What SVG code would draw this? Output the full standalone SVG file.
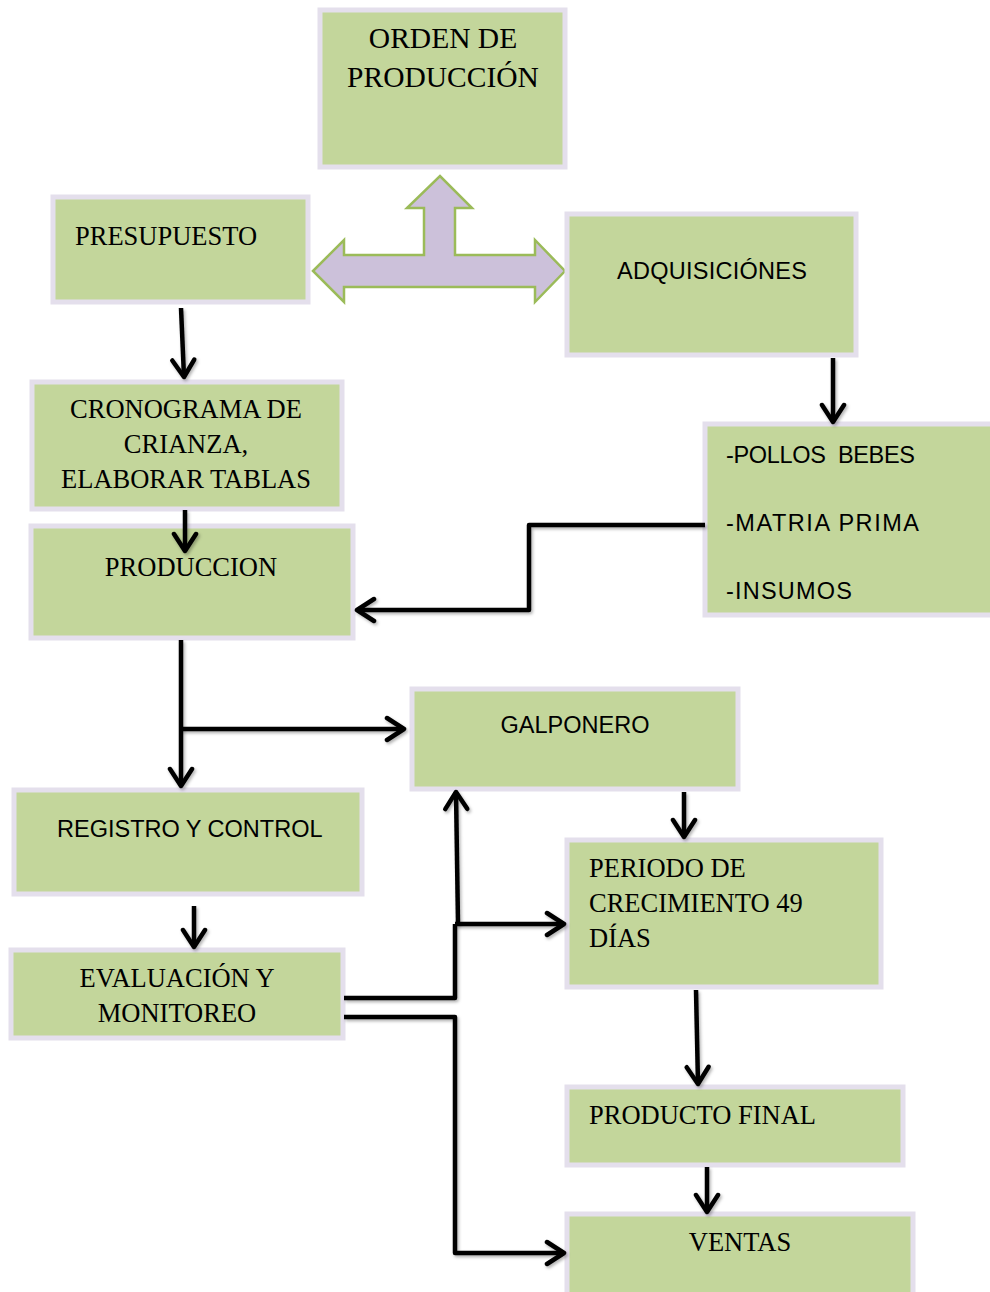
<svg xmlns="http://www.w3.org/2000/svg" width="990" height="1292" viewBox="0 0 990 1292">
<defs>
<style>
.box{fill:#C3D69B;stroke:#E4DFEC;stroke-width:5}
.serif{font-family:"Liberation Serif","Times New Roman",serif;font-size:26.5px;fill:#000}
.big{font-size:29.5px}
.sans{font-family:"Liberation Sans",Arial,sans-serif;font-size:23.5px;fill:#000}
.c{text-anchor:middle}
.line{fill:none;stroke:#000;stroke-width:4.5;stroke-linejoin:round;filter:url(#sh)}
.arr{marker-end:url(#ah)}
</style>
<filter id="sh" filterUnits="userSpaceOnUse" x="0" y="0" width="990" height="1292">
<feDropShadow dx="1.5" dy="2" stdDeviation="1.5" flood-color="#000" flood-opacity="0.3"/>
</filter>
<marker id="ah" markerUnits="userSpaceOnUse" markerWidth="30" markerHeight="30" refX="22" refY="14" orient="auto">
<path d="M5,3 L22,14 L5,25" fill="none" stroke="#000" stroke-width="4.5" stroke-linecap="round" stroke-linejoin="round"/>
</marker>
</defs>
<rect width="990" height="1292" fill="#fff"/>

<g id="orden">
<rect class="box" x="320" y="10" width="245" height="157"/>
<text class="serif big c" x="443" y="48">ORDEN DE</text>
<text class="serif big c" x="443" y="87">PRODUCCIÓN</text>
</g>

<g id="flecha-triple">
<path d="M313,271 L344,240 L344,255 L424,255 L424,208 L407,208 L440,176 L472,208 L455,208 L455,255 L535,255 L535,240 L565,271 L535,302 L535,287 L344,287 L344,302 Z" fill="#CCC1DA" stroke="#9BBB59" stroke-width="2.5" stroke-linejoin="miter"/>
</g>

<g id="presupuesto">
<rect class="box" x="53" y="197" width="255" height="105"/>
<text class="serif" x="75" y="245">PRESUPUESTO</text>
</g>

<g id="adquisiciones">
<rect class="box" x="567" y="214" width="289" height="141"/>
<text class="sans" x="617" y="279" textLength="190">ADQUISICIÓNES</text>
</g>

<g id="cronograma">
<rect class="box" x="32" y="382" width="310" height="127"/>
<text class="serif c" x="186" y="418">CRONOGRAMA DE</text>
<text class="serif c" x="186" y="453">CRIANZA,</text>
<text class="serif c" x="186" y="488">ELABORAR TABLAS</text>
</g>

<g id="insumos">
<rect class="box" x="705" y="424" width="290" height="191"/>
<text class="sans" x="726" y="463" xml:space="preserve" textLength="189">-POLLOS  BEBES</text>
<text class="sans" x="726" y="531" textLength="193">-MATRIA PRIMA</text>
<text class="sans" x="726" y="599" textLength="126">-INSUMOS</text>
</g>

<g id="produccion">
<rect class="box" x="31" y="526" width="322" height="112"/>
<text class="serif c" x="191" y="576">PRODUCCION</text>
</g>

<g id="galponero">
<rect class="box" x="412" y="689" width="326" height="100"/>
<text class="sans c" x="575" y="733">GALPONERO</text>
</g>

<g id="registro">
<rect class="box" x="14" y="790" width="348" height="104"/>
<text class="sans" x="57" y="837">REGISTRO Y CONTROL</text>
</g>

<g id="periodo">
<rect class="box" x="567" y="840" width="314" height="147"/>
<text class="serif" x="589" y="877">PERIODO DE</text>
<text class="serif" x="589" y="912">CRECIMIENTO 49</text>
<text class="serif" x="589" y="947">DÍAS</text>
</g>

<g id="evaluacion">
<rect class="box" x="11" y="950" width="332" height="88"/>
<text class="serif c" x="177" y="987">EVALUACIÓN Y</text>
<text class="serif c" x="177" y="1022">MONITOREO</text>
</g>

<g id="producto">
<rect class="box" x="567" y="1087" width="336" height="78"/>
<text class="serif" x="589" y="1124">PRODUCTO FINAL</text>
</g>

<g id="ventas">
<rect class="box" x="567" y="1214" width="346" height="90"/>
<text class="serif c" x="740" y="1251">VENTAS</text>
</g>

<g id="connectors">
<path class="line arr" d="M181,308 L184,377"/>
<path class="line arr" d="M185,510 L185,551"/>
<path class="line arr" d="M833,358 L833,422"/>
<path class="line arr" d="M705,525 L529,525 L529,610 L357,610"/>
<path class="line arr" d="M181,640 L181,786"/>
<path class="line arr" d="M181,729 L404,729"/>
<path class="line arr" d="M684,792 L684,837"/>
<path class="line arr" d="M194,906 L194,947"/>
<path class="line" d="M344,998 L455,998 L455,924"/>
<path class="line arr" d="M455,924 L564,924"/>
<path class="line arr" d="M458,924 L456,792"/>
<path class="line arr" d="M344,1017 L455,1017 L455,1253 L564,1253"/>
<path class="line arr" d="M696,990 L698,1084"/>
<path class="line arr" d="M707,1167 L707,1212"/>
</g>
</svg>
